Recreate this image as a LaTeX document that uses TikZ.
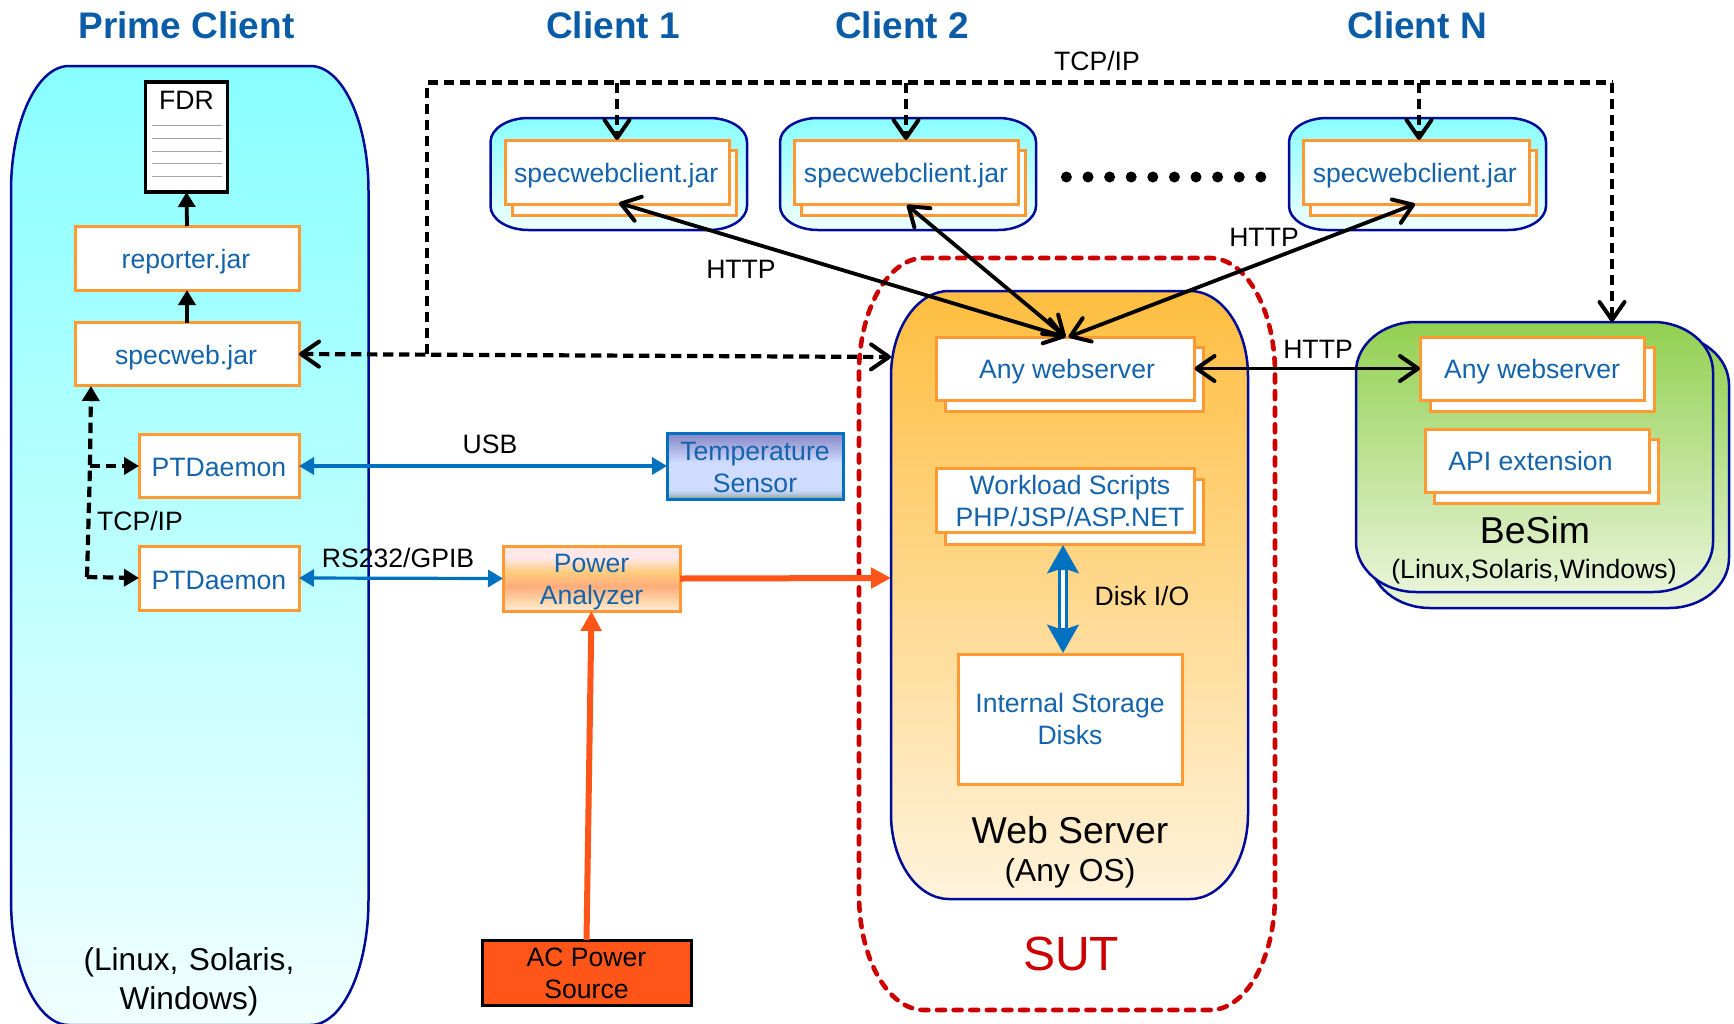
\documentclass[tikz,border=0pt]{standalone}
\usepackage{fontspec}
\setmainfont{Liberation Sans}
\usetikzlibrary{arrows.meta,calc}
\definecolor{navyline}{HTML}{000C99}
\definecolor{orangeline}{HTML}{FF9933}
\definecolor{bluetext}{HTML}{1464AC}
\definecolor{titleblue}{HTML}{0B5CA6}
\definecolor{linkblue}{HTML}{0070C0}
\definecolor{powerred}{HTML}{FF5518}
\definecolor{sutred}{HTML}{CC0000}
\definecolor{cyantop}{HTML}{88FFFF}
\definecolor{cyanbot}{HTML}{F0FFFF}
\definecolor{wstop}{HTML}{FFBE40}
\definecolor{wsbot}{HTML}{FFF3DC}
\definecolor{bstop}{HTML}{92D050}
\definecolor{bsbot}{HTML}{E8F4D8}
\definecolor{ta}{HTML}{80A090}\definecolor{tb}{HTML}{B8C8E0}\definecolor{tc}{HTML}{D0DCFF}\definecolor{td}{HTML}{8484C4}
\definecolor{pa0}{HTML}{FFE8E0}\definecolor{pa1}{HTML}{FFE8EC}\definecolor{pa2}{HTML}{FFCC7C}\definecolor{pa3}{HTML}{FFAC7C}\definecolor{pa4}{HTML}{FFDCB0}
\pgfdeclareverticalshading{tempshade}{100bp}{color(0bp)=(ta);color(25bp)=(ta);color(29bp)=(tb);color(32.5bp)=(tc);color(52.5bp)=(tc);color(75bp)=(td);color(100bp)=(td)}
\pgfdeclareverticalshading{powershade}{100bp}{color(0bp)=(pa0);color(25bp)=(pa0);color(31bp)=(pa4);color(44bp)=(pa3);color(55bp)=(pa2);color(66bp)=(pa1);color(75bp)=(pa0);color(100bp)=(pa0)}
\newcommand\fs[1]{\fontsize{#1}{#1}\selectfont}
% elliptical-corner rounded box: options, x1,y1,x2,y2,rx,ry
\newcommand\rrshape[7]{%
  \pgfmathsetmacro\xa{#2+#6}\pgfmathsetmacro\xb{#4-#6}%
  \pgfmathsetmacro\ya{#3+#7}\pgfmathsetmacro\yb{#5-#7}%
  \pgfmathsetmacro\xca{#2+0.448*#6}\pgfmathsetmacro\xcb{#4-0.448*#6}%
  \pgfmathsetmacro\yca{#3+0.448*#7}\pgfmathsetmacro\ycb{#5-0.448*#7}%
  \path[#1] (\xa,#3) -- (\xb,#3) .. controls (\xcb,#3) and (#4,\yca) .. (#4,\ya)
    -- (#4,\yb) .. controls (#4,\ycb) and (\xcb,#5) .. (\xb,#5)
    -- (\xa,#5) .. controls (\xca,#5) and (#2,\ycb) .. (#2,\yb)
    -- (#2,\ya) .. controls (#2,\yca) and (\xca,#3) .. cycle;}
\tikzset{
  px/.style 2 args={minimum width=#1*0.5pt,minimum height=#2*0.5pt},
  jarbox/.style={draw=orangeline,line width=1.5pt,fill=white,text=bluetext,inner sep=0pt,outer sep=0pt,align=center,font=\fs{13.3},text height=9.5pt,text depth=0pt},
  twolines/.style={inner sep=0pt,outer sep=0pt,align=center,font=\fs{13.3},text=bluetext},
  backbox/.style={draw=orangeline,line width=1.5pt,fill=white,inner sep=0pt,outer sep=0pt},
  container/.style={draw=navyline,line width=1.25pt,shade},
  cyanshade/.style={top color=cyantop,bottom color=cyanbot},
  ghost/.style={inner sep=0pt,outer sep=0pt},
  title/.style={font=\fs{18.5}\bfseries,text=titleblue},
  lab/.style={font=\fs{13.3},text=black},
  labbig/.style={font=\fs{18.7},text=black},
  labmid/.style={font=\fs{15.9},text=black,align=center},
  dashlink/.style={draw=black,line width=2.1pt,dash pattern=on 5.2pt off 2.8pt},
  barb/.tip={Straight Barb[length=9pt,width=12.5pt,line width=2pt,round]},
  solidtip/.tip={Triangle[length=7.5pt,width=8.5pt]},
  httplink/.style={draw=black,line width=1.9pt,{barb}-{barb}},
  bluelink/.style={draw=linkblue,line width=1.6pt,{solidtip}-{solidtip}},
  powerlink/.style={draw=powerred,line width=3pt,-{Triangle[length=10pt,width=10pt]}},
  uplink/.style={draw=black,line width=1.9pt,-{solidtip}},
}
\begin{document}
\begin{tikzpicture}[x=0.5pt,y=-0.5pt]
\clip (0,0) rectangle (1734,1023);
% titles
\node[title] (tprime) at (186.5,25) {Prime Client};
\node[title] (tc1) at (613,25) {Client 1};
\node[title] (tc2) at (902,25) {Client 2};
\node[title] (tcn) at (1417,25) {Client N};

% Prime client
\rrshape{container,cyanshade}{11}{66}{368.5}{1025}{58}{125}
\node[ghost,px={357}{959}] (prime) at (190,545.5) {};
\node[labmid,font=\fs{15.8},text width=260pt] (primeos) at (189,982) {(Linux, Solaris,\\[3.6pt]Windows)};

% Web server / SUT
\rrshape{container,top color=wstop,bottom color=wsbot}{891}{291}{1248}{899}{58}{85}
\node[ghost,px={357}{608}] (ws) at (1069.5,595) {};
\rrshape{draw=sutred,line width=2.3pt,line cap=round,dash pattern=on 4pt off 4.3pt}{859}{258}{1275}{1010}{65}{115}
\node[font=\fs{24},text=sutred] (sut) at (1071,954) {SUT};

% BeSim
\rrshape{container,top color=bstop,bottom color=bsbot}{1370}{335}{1729}{608}{60}{50}
\rrshape{container,top color=bstop,bottom color=bsbot}{1356}{322}{1713}{592}{60}{50}
\node[ghost,px={357}{270}] (besim) at (1534.5,457) {};

% Client containers
\rrshape{container,cyanshade}{490.5}{118}{747}{230}{38}{24}
\rrshape{container,cyanshade}{780}{118}{1036}{230}{38}{24}
\rrshape{container,cyanshade}{1289}{118}{1546}{230}{38}{24}

% client jars
\node[backbox,px={224}{65}] (c1b) at (624,183) {};
\node[jarbox,text height=10pt,px={224}{64}] (c1) at (617,172) {\hspace*{-0.8pt}specwebclient.jar};
\node[backbox,px={224}{65}] (c2b) at (913.5,183) {};
\node[jarbox,text height=10pt,px={224}{64}] (c2) at (906,172) {specwebclient.jar};
\node[backbox,px={226}{65}] (cnb) at (1423,183) {};
\node[jarbox,text height=10pt,px={226}{64}] (cn) at (1416,172) {\hspace*{-1.2pt}specwebclient.jar};

% dots
\foreach \i in {0,...,9} \fill[black] ({1066.4+21.6*\i},177) circle (5.5);

% prime boxes
\node[draw=black,line width=1.6pt,fill=white,inner sep=0pt,outer sep=0pt,px={82}{110}] (fdr) at (186.5,137) {};
\node[lab] (fdrt) at (186.5,100) {FDR};
\foreach \y in {125.7,138.7,151.4,163.6,176.7} \draw[gray!70,line width=0.5pt] (152,\y) -- (222,\y);
\node[jarbox,text height=10.5pt,px={224}{64}] (rep) at (187,258) {\hspace*{-1pt}reporter.jar};
\node[jarbox,text height=10.5pt,px={224}{63}] (spec) at (187,354) {\hspace*{-1pt}specweb.jar};
\node[jarbox,text height=10.5pt,px={160}{63}] (pd1) at (219,466) {PTDaemon};
\node[jarbox,text height=11.2pt,px={160}{64}] (pd2) at (219,578) {PTDaemon};

% sensors
\node[twolines,draw=linkblue,line width=1.5pt,shading=tempshade,px={176}{66}] (temp) at (755,466) {};
\node[twolines] (tempt) at (755,467.5) {Temperature\\[3pt]Sensor};
\node[twolines,draw=orangeline,line width=1.5pt,shading=powershade,px={177}{65}] (pa) at (591.5,578.5) {};
\node[twolines] (pat) at (591.5,582) {Power\\[3pt]Analyzer};
\node[twolines,draw=black,line width=1.5pt,fill=powerred,text=black,px={209}{65}] (ac) at (586.5,972.5) {};
\node[twolines,text=black] (act) at (586.5,973.5) {AC Power\\[3pt]Source};

% web server boxes
\node[backbox,px={258}{64}] (anyb) at (1074,379) {};
\node[jarbox,px={258}{63}] (any) at (1065.5,368.5) {\hspace*{1.5pt}Any webserver};
\node[backbox,px={258}{65}] (wlb) at (1074,511.5) {};
\node[twolines,draw=orangeline,line width=1.5pt,fill=white,px={258}{64}] (wl) at (1065.5,500.5) {};
\node[twolines] (wlt) at (1070,501) {Workload Scripts\\[2.6pt]PHP/JSP/ASP.NET};
\node[twolines,draw=orangeline,line width=1.5pt,fill=white,px={224}{130}] (disk) at (1070,719) {};
\node[twolines] (diskt) at (1070,719) {Internal Storage\\[3pt]Disks};
\node[labbig] (wst) at (1070,830.5) {Web Server};
\node[labmid] (wsos) at (1070,873) {(Any OS)};

% besim boxes
\node[backbox,px={224}{64}] (b1b) at (1542,379) {};
\node[jarbox,px={224}{63}] (b1) at (1532,368.5) {Any webserver};
\node[backbox,px={224}{64}] (b2b) at (1546,471) {};
\node[jarbox,px={224}{63}] (b2) at (1537,460.5) {API extension\hspace*{6.5pt}};
\node[labbig] (bst) at (1535,530) {BeSim};
\node[lab] (bsos) at (1534,572) {(Linux,Solaris,Windows)};

% solid black arrows in prime
\draw[uplink] (rep.north) -- (fdr.south);
\draw[uplink] (spec.north) -- (rep.south);

% TCP/IP dashed network
\coordinate (netnw) at (427,82.5);
\coordinate (netne) at (1612,82.5);
\coordinate (netsw) at (427,354);
\draw[dashlink] (netsw) -- (netnw) -- (netne);
\draw[dashlink,-{barb}] (netne) -- (netne |- besim.north);
\draw[dashlink,-{barb}] (c1.north |- netnw) -- (c1.north);
\draw[dashlink,-{barb}] (c2.north |- netnw) -- (c2.north);
\draw[dashlink,-{barb}] ($(cn.north |- netnw)+(3,0)$) -- ($(cn.north)+(3,0)$);
\draw[dashlink,{barb}-{barb}] (spec.east) -- (891,357);

% PTDaemon dashed
\coordinate (ptd1) at (90,466);
\coordinate (ptd2) at (87,577);
\draw[dashlink,-{solidtip}] (ptd2) -- (ptd1) -- (91,386);
\draw[dashlink,-{solidtip}] (ptd1) -- (pd1.west);
\draw[dashlink,-{solidtip}] (ptd2) -- (pd2.west);

% blue links
\draw[bluelink] (pd1.east) -- (temp.west);
\draw[bluelink] (pd2.east) -- (pa.west);

% power
\draw[powerlink] (pa.east) -- (891,578);
\draw[powerlink] (ac.north) -- (pa.south);

% HTTP
\draw[httplink] ($(c1.south)+(2,-1)$) -- (any.north);
\draw[httplink] ($(c2.south)+(1,1)$) -- (any.north);
\draw[httplink] ($(cn.south)+(-1,0)$) -- ($(any.north)+(3,0)$);
\draw[httplink] (any.east) -- (b1.west);

% disk io
\draw[draw=linkblue,line width=5pt,{Stealth[length=14pt,width=15.5pt,inset=2.5pt]}-{Stealth[length=14pt,width=15.5pt,inset=2.5pt]}] (1063,545) -- (1063,653);
\draw[white,line width=1.8pt] (1063,570) -- (1063,628);

% labels
\node[lab] (ltcp1) at (1097,61) {TCP/IP};
\node[lab] (ltcp2) at (140,521) {TCP/IP};
\node[lab] (lusb) at (490,444.5) {USB};
\node[lab] (lrs) at (398,558) {RS232/GPIB};
\node[lab] (lh1) at (741,269) {HTTP};
\node[lab] (lh2) at (1264,237) {HTTP};
\node[lab] (lh3) at (1318,349.5) {HTTP};
\node[lab] (ldio) at (1142,596) {Disk I/O};
\end{tikzpicture}
\end{document}
